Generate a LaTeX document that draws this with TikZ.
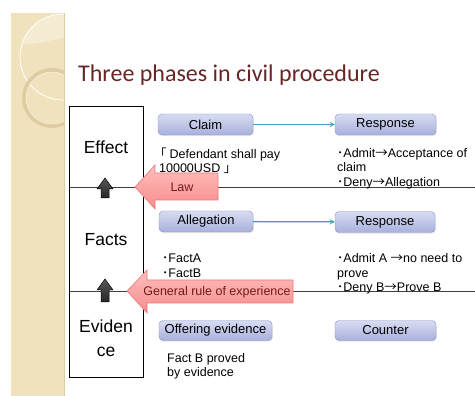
\documentclass[tikz,border=0pt]{standalone}
\usepackage{fontspec}
\setmainfont{Liberation Sans}
\newfontfamily\titlefont{Carlito}
\newfontfamily\cjk{Noto Sans CJK JP}
\usepackage{tikz}
\usetikzlibrary{shadows}
\definecolor{stripbg}{RGB}{240,226,188}
\definecolor{stripring}{RGB}{222,205,160}
\definecolor{titlered}{RGB}{105,38,38}
\definecolor{boxtop}{RGB}{216,220,242}
\definecolor{boxbot}{RGB}{168,176,220}
\definecolor{boxedge}{RGB}{138,148,200}
\definecolor{flowteal}{RGB}{62,160,185}
\definecolor{pinktop}{RGB}{255,190,190}
\definecolor{pinkbot}{RGB}{248,140,140}
\definecolor{pinkedge}{RGB}{236,120,120}
\definecolor{pinktext}{RGB}{120,25,25}
\newcommand{\pt}{{\cjk ･}}
\newcommand{\ar}{{\cjk →}}

\begin{document}
\begin{tikzpicture}[x=1pt,y=-1pt,
        phase/.style={
          draw=boxedge, top color=boxtop, bottom color=boxbot,
          rounded corners=4pt, inner sep=0pt, minimum height=21pt,
          drop shadow={opacity=.2, shadow xshift=.8pt, shadow yshift=-1.2pt},
          font=\fontsize{13}{15}\selectfont
        },
        note/.style={
          anchor=base west, align=left, inner sep=0pt,
          font=\fontsize{12.5}{14.5}\selectfont
        },
        side/.style={font=\fontsize{17.5}{24}\selectfont, align=center, inner sep=0pt},
        divider/.style={color=black!75, line width=.8pt},
        flow/.style={color=flowteal, line width=1.3pt, -stealth},
        uparrow/.style={draw=black, top color=black!65, bottom color=black!85, line width=.5pt},
        pinkarrow/.style={draw=pinkedge, top color=pinktop, bottom color=pinkbot, line width=.6pt},
        pinklabel/.style={text=pinktext, inner sep=0pt, font=\fontsize{12.5}{14}\selectfont}
      ]
      \useasboundingbox (0,0) rectangle (475,396);
      \fill[stripbg] (11,13) rectangle (64,396);
      \begin{scope}
        \clip (11,13) rectangle (64,396);
        \fill[white, opacity=.35] (63,57) circle [radius=43];
        \fill[stripbg] (11,44) .. controls (35,46) and (50,40) .. (64,38) -- (64,120) -- (11,120) -- cycle;
        \draw[white, line width=.8pt] (63,57) circle [radius=43];
        \draw[stripring, line width=4pt] (52,98) circle [radius=28];
        \draw[white, opacity=.6, line width=.6pt] (52,98) circle [radius=26];
      \end{scope}
      \draw[stripring] (64,13) -- (64,396);

      \node[anchor=base west, inner sep=0pt, text=titlered, font=\titlefont\fontsize{24}{27}\selectfont]
        (ttl) at (78,82) {Three phases in civil procedure};

      \coordinate (cut1) at (69,187.5);
      \coordinate (cut2) at (69,291.5);
      \draw[divider] (cut1) -- ++(406,0);
      \draw[divider] (cut2) -- ++(406,0);
      \node[draw, line width=1.1pt, anchor=north west, minimum width=74pt, minimum height=271pt,
        inner sep=0pt] (col) at (69,106) {};

      \node[side, anchor=base] (eff) at (106,154) {Effect};
      \node[side, anchor=base] (fac) at (106,246) {Facts};
      \node[side] (evi) at (106,338) {Eviden\\ce};

      \node[phase, minimum width=95pt] (claim) at (205.5,124.5) {Claim};
      \node[phase, minimum width=101pt] (resp1) at (385.5,124.5) {Response};
      \node[phase, minimum width=94pt] (alleg) at (206,221.5) {Allegation};
      \node[phase, minimum width=100pt] (resp2) at (385,222) {Response};
      \node[phase, minimum width=113pt, minimum height=20pt] (offer) at (215.5,330.5) {Offering evidence};
      \node[phase, minimum width=101pt, minimum height=20pt] (count) at (385.5,330.5) {Counter};

      \draw[flow] (claim) -- (resp1);
      \draw[flow] (alleg) -- (resp2);

      \node[note] (demand) at (159,173) {{\cjk\kern-5pt 「}\hspace{3pt}Defendant shall pay\\10000USD {\cjk 」}};
      \node[note] (ans1) at (337,186.5) {\pt Admit\ar Acceptance of\\claim\\\pt Deny\ar Allegation};
      \node[note] (fcts) at (162,277) {\pt FactA\\\pt FactB};
      \node[note] (ans2) at (337,291.5) {\pt Admit A \ar no need to\\prove\\\pt Deny B\ar Prove B};
      \node[note] (proof) at (167,377) {Fact B proved\\by evidence};

      \draw[uparrow] (105,178) -- (113,189) -- (109,189) -- (109,198) -- (101,198) -- (101,189) -- (97,189) -- cycle;
      \draw[uparrow] (105,279) -- (113,290) -- (109,290) -- (109,302) -- (101,302) -- (101,290) -- (97,290) -- cycle;

      \draw[pinkarrow] (135,187) -- (155,165) -- (155,173) -- (218,173) -- (218,200) -- (155,200) -- (155,209) -- cycle;
      \node[pinklabel] (law) at (182,187) {Law};
      \draw[pinkarrow] (127,291) -- (147,270) -- (147,280) -- (293,280) -- (293,303) -- (147,303) -- (147,313) -- cycle;
      \node[pinklabel] (rule) at (217,292) {General rule of experience};
    \end{tikzpicture}
\end{document}
